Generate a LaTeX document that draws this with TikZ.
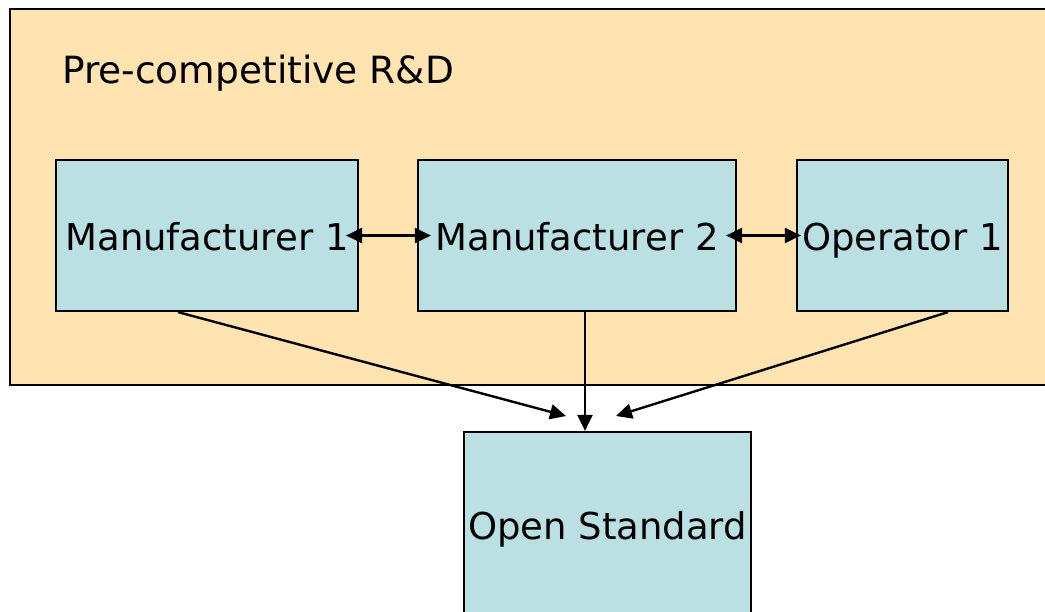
\documentclass[tikz,border=0pt]{standalone}
\usepackage{fontspec}
\setmainfont{DejaVu Sans}
\usetikzlibrary{arrows.meta}
\definecolor{rdtan}{HTML}{FFE4B2}
\definecolor{boxblue}{HTML}{BBE0E3}

\begin{document}
\begin{tikzpicture}[x=1pt, y=-1pt,
    party/.style={draw, line width=2.2pt, fill=boxblue, minimum height=151pt,
                  inner sep=0pt, text height=35pt, text depth=6pt,
                  font=\fontsize{37}{40}\selectfont},
    link/.style={line width=2.4pt, -{Triangle[length=16pt,width=15pt]}},
    twolink/.style={line width=2.4pt, {Triangle[length=16pt,width=15pt]}-{Triangle[length=16pt,width=15pt]}}]
        \clip (0,0) rectangle (1045,611);

        % Draw the pre-competitive area
        \draw[line width=2.2pt, fill=rdtan] (10,9) rectangle (1070,385);
        \node[anchor=base west, inner sep=0pt, font=\fontsize{37.5}{40}\selectfont] (title) at (62,83) {Pre-competitive R\&D};

        % Draw the partners
        \node[party, minimum width=302pt] (man1) at (207,235.5) {Manufacturer 1};
        \node[party, minimum width=318pt] (man2) at (577,235.5) {Manufacturer 2};
        \node[party, minimum width=211pt] (op1) at (902.5,235.5) {Operator 1};

        % Draw the standard
        \node[party, minimum width=287pt, minimum height=186pt] (std) at (607.5,525) {Open Standard};

        % Draw the links between partners
        \draw[twolink] ([xshift=-13pt]man1.east) -- ([xshift=14pt]man2.west);
        \draw[twolink] ([xshift=-11pt]man2.east) -- ([xshift=5pt]op1.west);

        % Draw the arrows into the standard
        \coordinate (in1) at (566,416);
        \coordinate (in3) at (616,416);
        \draw[link] ([xshift=-29pt]man1.south) -- (in1);
        \draw[link] ([xshift=8pt]man2.south) -- ([xshift=-22.5pt]std.north);
        \draw[link] ([xshift=45.5pt]op1.south) -- (in3);

    \end{tikzpicture}
\end{document}
